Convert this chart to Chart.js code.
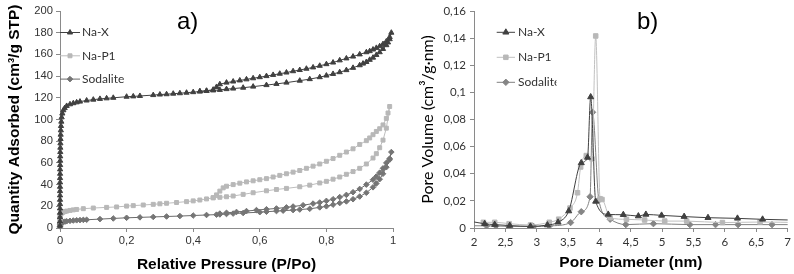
<!DOCTYPE html>
<html>
<head>
<meta charset="utf-8">
<script src="https://cdn.jsdelivr.net/npm/chart.js@4.4.0/dist/chart.umd.min.js"></script>
<style>
    body { margin: 0; background: #ffffff; }
    #IsothermCanvas { position: absolute; left: 0; top: 0; }
    #PoreCanvas { position: absolute; left: 400px; top: 0; }
</style>
</head>
<body>
<canvas id="IsothermCanvas" width="400" height="274"></canvas>
<canvas id="PoreCanvas" width="394" height="274"></canvas>
<script>
// Series names (same order in both panels)
const seriesNames = ['Na-X', 'Na-P1', 'Sodalite'];

// ---- Panel a) N2 isotherms: adsorption branch then desorption branch ----
const naxAdsPressure = [0.000005, 0.00001, 0.00002, 0.00003, 0.00004, 0.00005, 0.00006, 0.00008, 0.0001, 0.00012, 0.00015,
    0.0002, 0.00025, 0.0003, 0.0004, 0.0005, 0.0006, 0.0008, 0.001, 0.0013, 0.0016,
    0.002, 0.0025, 0.003, 0.004, 0.005, 0.007, 0.01, 0.014, 0.02, 0.03,
    0.04, 0.05, 0.06, 0.08, 0.1, 0.12, 0.14, 0.16, 0.2, 0.22,
    0.24, 0.28, 0.3, 0.32, 0.34, 0.36, 0.38, 0.4, 0.42, 0.44,
    0.46, 0.48, 0.5, 0.52, 0.55, 0.58, 0.62, 0.65, 0.68, 0.72,
    0.75, 0.78, 0.8, 0.82, 0.84, 0.86, 0.88, 0.9, 0.91, 0.92,
    0.93, 0.94, 0.95, 0.96, 0.97, 0.98, 0.985, 0.99, 0.995];
const naxAdsQuantity = [2, 6, 10, 14, 18, 22, 26, 30, 34, 38, 42,
    46, 50, 54, 58, 62, 66, 70, 74, 78, 82,
    86, 90, 94, 98, 102, 105.5, 108.5, 110.5, 112.5, 114,
    115, 115.8, 116.5, 117.5, 118.3, 119, 119.5, 120, 121, 121.3,
    121.7, 122.5, 123, 123.3, 123.8, 124.2, 124.7, 125.2, 125.8, 126.3,
    126.8, 127.3, 128, 128.5, 129.3, 130.3, 131.7, 132.8, 134, 135.8,
    137.2, 139, 140.5, 142, 143.6, 145.5, 147.6, 150, 151.5, 153,
    155, 157, 159.5, 162, 165, 168.5, 171, 174, 180];
const naxDesPressure = [0.99, 0.98, 0.97, 0.96, 0.95, 0.94, 0.93, 0.92, 0.9, 0.88, 0.86, 0.84, 0.82, 0.8, 0.78, 0.76, 0.74,
    0.72, 0.7, 0.68, 0.66, 0.64, 0.62, 0.6, 0.58, 0.56, 0.54, 0.52, 0.5, 0.48, 0.47, 0.46, 0.44, 0.42];
const naxDesQuantity = [176, 172, 169.5, 167.5, 166, 164.5, 163, 162, 160, 158, 156.3, 154.5, 152.5, 151, 149.5, 148, 146.8,
    145.6, 144.5, 143.3, 142.2, 141.1, 140, 139, 138, 137, 136, 135, 134, 132.5, 130, 127.5, 126.5, 126];

const naP1AdsPressure = [0.00001, 0.00005, 0.0001, 0.0003, 0.0006, 0.001, 0.002, 0.004, 0.007, 0.01,
    0.015, 0.02, 0.03, 0.04, 0.05, 0.07, 0.1, 0.14, 0.17, 0.2,
    0.22, 0.25, 0.28, 0.3, 0.32, 0.35, 0.38, 0.4, 0.42, 0.44,
    0.46, 0.48, 0.5, 0.52, 0.55, 0.58, 0.62, 0.65, 0.68, 0.72,
    0.75, 0.78, 0.8, 0.82, 0.84, 0.86, 0.88, 0.9, 0.92, 0.94,
    0.95, 0.96, 0.97, 0.98, 0.99];
const naP1AdsQuantity = [6, 8, 9.5, 10.5, 11.5, 12.3, 13, 13.6, 14.2, 14.7,
    15.2, 15.6, 16.2, 16.7, 17.1, 17.8, 18.4, 19, 19.4, 20.2,
    20.6, 21.2, 21.8, 22.3, 22.8, 23.5, 24.3, 25, 25.8, 26.8,
    27.8, 28.3, 28.8, 29.5, 31, 32.5, 34.3, 35.5, 36.5, 38,
    39.5, 41.5, 43, 45, 47, 49.5, 52, 55, 59, 64.5,
    68.5, 74, 81, 92, 112];
const naP1DesPressure = [0.985, 0.98, 0.97, 0.96, 0.95, 0.94, 0.93, 0.92, 0.9, 0.88, 0.86, 0.84, 0.82, 0.8, 0.78, 0.76, 0.74,
    0.72, 0.7, 0.68, 0.66, 0.64, 0.62, 0.6, 0.58, 0.56, 0.54, 0.52, 0.5, 0.49, 0.48, 0.47, 0.46];
const naP1DesQuantity = [106, 101, 95, 91.5, 89, 86, 83, 80.5, 77, 73, 70, 67, 64, 61.5, 59, 57, 55,
    53, 51.5, 50, 48.5, 47, 45.5, 44.5, 43.5, 42.5, 41.3, 40, 38.5, 37, 34, 30.5, 28];

const sodaliteAdsPressure = [0.00001, 0.0001, 0.0005, 0.001, 0.002, 0.004, 0.007, 0.01, 0.015, 0.02,
    0.03, 0.04, 0.05, 0.06, 0.07, 0.08, 0.12, 0.16, 0.2, 0.24,
    0.28, 0.32, 0.36, 0.4, 0.44, 0.47, 0.48, 0.5, 0.52, 0.55,
    0.6, 0.62, 0.65, 0.67, 0.7, 0.72, 0.75, 0.78, 0.8, 0.82,
    0.84, 0.86, 0.88, 0.9, 0.92, 0.94, 0.95, 0.96, 0.97, 0.98,
    0.99, 0.995];
const sodaliteAdsQuantity = [1.5, 2.5, 3.5, 4, 4.5, 5, 5.3, 5.6, 5.9, 6.2,
    6.6, 6.9, 7.1, 7.3, 7.5, 7.6, 8.2, 8.8, 9.4, 9.8,
    10.2, 10.6, 11, 11.5, 12, 12.3, 12.5, 12.9, 13.3, 13.8,
    14.6, 15, 15.6, 16, 16.5, 17, 17.7, 19, 20, 21.5,
    23, 24.5, 26.5, 29, 32.5, 37.5, 41, 45, 50, 56,
    63, 70];
const sodaliteDesPressure = [0.99, 0.98, 0.97, 0.96, 0.95, 0.94, 0.92, 0.9, 0.88, 0.86, 0.84, 0.82, 0.8,
    0.78, 0.76, 0.73, 0.7, 0.68, 0.65, 0.62, 0.59, 0.56, 0.53, 0.5, 0.48];
const sodaliteDesQuantity = [64, 60, 55, 51, 47.5, 44.5, 40, 36, 33, 30.5, 28.5, 26.5, 25,
    23.5, 22.5, 21, 19.8, 19, 18, 17.3, 16.5, 15.6, 14.8, 14, 13.3];

// ---- Panel b) BJH pore size distribution ----
const naxDiameter = [1.85, 2.17, 2.33, 2.57, 2.9, 3.17, 3.34, 3.51, 3.71, 3.81, 3.86, 3.94, 4.14, 4.38, 4.62, 4.74, 4.99,
    5.35, 5.73, 6.2, 6.6, 7.2];
const naxPoreVolume = [0.0058, 0.0031, 0.0025, 0.0018, 0.0012, 0.0022, 0.0042, 0.0125, 0.048, 0.052, 0.0966, 0.0196,
    0.01, 0.0098, 0.0088, 0.01, 0.0093, 0.0084, 0.0076, 0.0071, 0.0064, 0.0057];
const naP1Diameter = [2.15, 2.33, 2.56, 2.9, 3.2, 3.35, 3.53, 3.65, 3.7, 3.79, 3.88, 3.94, 4.01, 4.04, 4.17, 4.43, 4.72,
    5.04, 5.39, 5.96, 6.56, 7.2];
const naP1PoreVolume = [0.0042, 0.0042, 0.0032, 0.0022, 0.0042, 0.0065, 0.0147, 0.026, 0.045, 0.0534, 0.051, 0.1416,
    0.0216, 0.021, 0.0076, 0.0064, 0.0059, 0.0051, 0.0051, 0.004, 0.0044, 0.004];
const sodaliteDiameter = [1.8, 2.2, 2.35, 2.55, 2.95, 3.2, 3.54, 3.71, 3.85, 3.89, 3.99, 4.17, 4.42, 4.86, 5.44, 5.85,
    6.21, 6.75, 7.2];
const sodalitePoreVolume = [0.0017, 0.0016, 0.0015, 0.0012, 0.0011, 0.0015, 0.004, 0.012, 0.023, 0.0853, 0.0205, 0.0065,
    0.0025, 0.0032, 0.0025, 0.0025, 0.0025, 0.0025, 0.0025];

// ---- Tick values and labels ----
const pressureTicks = [0, 0.2, 0.4, 0.6, 0.8, 1];
const pressureTickLabels = ['0', '0,2', '0,4', '0,6', '0,8', '1'];
const quantityTicks = [0, 20, 40, 60, 80, 100, 120, 140, 160, 180, 200];
const quantityTickLabels = ['0', '20', '40', '60', '80', '100', '120', '140', '160', '180', '200'];
const diameterTicks = [2, 2.5, 3, 3.5, 4, 4.5, 5, 5.5, 6, 6.5, 7];
const diameterTickLabels = ['2', '2,5', '3', '3,5', '4', '4,5', '5', '5,5', '6', '6,5', '7'];
const poreVolumeTicks = [0, 0.02, 0.04, 0.06, 0.08, 0.1, 0.12, 0.14, 0.16];
const poreVolumeTickLabels = ['0', '0,02', '0,04', '0,06', '0,08', '0,1', '0,12', '0,14', '0,16'];

const AXIS_GREY = '#8a8a8a';
const ARIAL = '"Liberation Sans", Arial, sans-serif';
const CALIBRI = 'Lato, "Open Sans", sans-serif';

function ToPoints(xs, ys)
{
    return xs.map((x, i) => ({ x: x, y: ys[i] }));
}

// Draws the panel letter and a free-standing legend inside the plot
const panelDecor =
{
    id: 'panelDecor',
    afterDraw(chart, args, opts)
    {
        const ctx = chart.ctx;
        ctx.save();
        ctx.fillStyle = '#000';
        ctx.font = opts.tagFont;
        ctx.textBaseline = 'alphabetic';
        ctx.textAlign = 'left';
        ctx.fillText(opts.tag, opts.tagX, opts.tagY);

        if (opts.clipRight)
        {
            ctx.beginPath();
            ctx.rect(0, 0, opts.clipRight, chart.height);
            ctx.clip();
        }
        chart.data.datasets.forEach((ds, i) =>
        {
            const y = opts.legendY + i * opts.legendDy;
            ctx.strokeStyle = ds.borderColor;
            ctx.lineWidth = 1;
            ctx.beginPath();
            ctx.moveTo(opts.legendX, y);
            ctx.lineTo(opts.legendX + opts.lineLen, y);
            ctx.stroke();
            ctx.fillStyle = ds.pointBackgroundColor;
            ctx.strokeStyle = ds.pointBorderColor;
            Chart.helpers.drawPoint(ctx, { pointStyle: ds.pointStyle, radius: ds.pointRadius, borderWidth: 1, rotation: 0 },
                opts.legendX + opts.lineLen / 2, y);
            ctx.fillStyle = '#333';
            ctx.font = opts.legendFont;
            ctx.textBaseline = 'middle';
            ctx.fillText(ds.label, opts.legendX + opts.lineLen + opts.textGap, y);
        });
        ctx.restore();
    }
};

function Series(label, points, colour, markerColour, style, radius, smooth)
{
    return {
        label: label,
        data: points,
        showLine: true,
        borderColor: colour,
        borderWidth: 1,
        pointStyle: style,
        pointRadius: radius,
        pointBorderWidth: 1,
        pointBackgroundColor: markerColour,
        pointBorderColor: markerColour,
        cubicInterpolationMode: smooth ? 'monotone' : 'default',
        tension: 0,
        clip: smooth ? 0 : 6
    };
}

function AxisOptions(min, max, ticks, labels, font, tickPad, title)
{
    return {
        type: 'linear',
        min: min,
        max: max,
        afterBuildTicks: (scale) => { scale.ticks = ticks.map(v => ({ value: v })); },
        ticks: { callback: (v, i) => labels[i], font: font, color: '#333', padding: tickPad, maxRotation: 0, autoSkip: false },
        grid: { display: true, drawOnChartArea: false, drawTicks: true, tickLength: 4, color: AXIS_GREY },
        border: { display: true, color: AXIS_GREY, width: 1 },
        title: title
    };
}

// ---- Panel a) ----
new Chart(document.getElementById('IsothermCanvas'),
{
    type: 'scatter',
    data:
    {
        datasets:
        [
            Series(seriesNames[0], ToPoints(naxAdsPressure.concat(naxDesPressure), naxAdsQuantity.concat(naxDesQuantity)),
                '#404040', '#404040', 'triangle', 3, false),
            Series(seriesNames[1], ToPoints(naP1AdsPressure.concat(naP1DesPressure), naP1AdsQuantity.concat(naP1DesQuantity)),
                '#bdbdbd', '#b8b8b8', 'rect', 2.8, false),
            Series(seriesNames[2], ToPoints(sodaliteAdsPressure.concat(sodaliteDesPressure), sodaliteAdsQuantity.concat(sodaliteDesQuantity)),
                '#6a6a6a', '#757575', 'rectRot', 2.8, false)
        ]
    },
    options:
    {
        responsive: false,
        animation: false,
        devicePixelRatio: 1,
        layout: { padding: { left: 0, top: 11, right: 7, bottom: 0 } },
        plugins:
        {
            legend: { display: false },
            tooltip: { enabled: false },
            panelDecor:
            {
                tag: 'a)', tagX: 177, tagY: 29, tagFont: '24px ' + ARIAL,
                legendX: 60, legendY: 32.5, legendDy: 23.3, lineLen: 20, textGap: 2,
                legendFont: '12px ' + CALIBRI
            }
        },
        scales:
        {
            x: Object.assign(AxisOptions(0, 1, pressureTicks, pressureTickLabels, { family: ARIAL, size: 11.2 }, 2,
                { display: true, text: 'Relative Pressure (P/Po)', color: '#000',
                  font: { family: ARIAL, size: 15.5, weight: 'bold' }, padding: { top: 0, bottom: 0 } }),
                { afterFit: (scale) => { scale.height = 46; } }),
            y: Object.assign(AxisOptions(0, 200, quantityTicks, quantityTickLabels, { family: ARIAL, size: 11.2 }, 3,
                { display: true, text: 'Quantity Adsorbed (cm³/g STP)', color: '#000',
                  font: { family: ARIAL, size: 15.5, weight: 'bold' }, padding: { top: 5, bottom: 0 } }),
                { afterFit: (scale) => { scale.width = 60; } })
        }
    },
    plugins: [panelDecor]
});

// ---- Panel b) ----
new Chart(document.getElementById('PoreCanvas'),
{
    type: 'scatter',
    data:
    {
        datasets:
        [
            Series(seriesNames[0], ToPoints(naxDiameter, naxPoreVolume), '#404040', '#404040', 'triangle', 3.5, true),
            Series(seriesNames[1], ToPoints(naP1Diameter, naP1PoreVolume), '#c0c0c0', '#b8b8b8', 'rect', 3.2, true),
            Series(seriesNames[2], ToPoints(sodaliteDiameter, sodalitePoreVolume), '#808080', '#858585', 'rectRot', 3.2, true)
        ]
    },
    options:
    {
        responsive: false,
        animation: false,
        devicePixelRatio: 1,
        layout: { padding: { left: 0, top: 11, right: 3, bottom: 0 } },
        plugins:
        {
            legend: { display: false },
            tooltip: { enabled: false },
            panelDecor:
            {
                tag: 'b)', tagX: 237, tagY: 29, tagFont: '24px ' + ARIAL,
                legendX: 96.7, legendY: 32.3, legendDy: 25, lineLen: 18.3, textGap: 3,
                legendFont: '12px ' + CALIBRI, clipRight: 156.5
            }
        },
        scales:
        {
            x: Object.assign(AxisOptions(2, 7, diameterTicks, diameterTickLabels, { family: CALIBRI, size: 11.5 }, 3,
                { display: true, text: 'Pore Diameter (nm)', color: '#000',
                  font: { family: ARIAL, size: 15.5, weight: 'bold' }, padding: { top: 0, bottom: 2 } }),
                { afterFit: (scale) => { scale.height = 46; } }),
            y: Object.assign(AxisOptions(0, 0.16, poreVolumeTicks, poreVolumeTickLabels, { family: CALIBRI, size: 11.5 }, 4,
                { display: true, text: 'Pore Volume (cm³/g·nm)', color: '#000',
                  font: { family: CALIBRI, size: 16 }, padding: { top: 18.4, bottom: 0 } }),
                { afterFit: (scale) => { scale.width = 74; } })
        }
    },
    plugins: [panelDecor]
});
</script>
</body>
</html>
